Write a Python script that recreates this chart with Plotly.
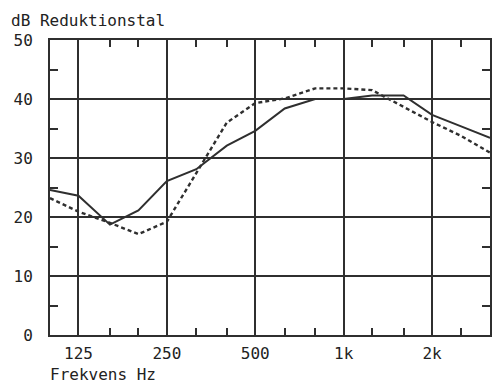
import plotly.graph_objects as go
import math

freqs = [100, 125, 160, 200, 250, 315, 400, 500, 630, 800, 1000, 1250, 1600, 2000, 2500, 3150]
solid = [24.6, 23.6, 18.7, 21.1, 26.1, 28.1, 32.1, 34.6, 38.4, 40.0, 40.0, 40.6, 40.6, 37.3, 35.4, 33.4]
dashed = [23.2, 20.9, 19.0, 17.1, 19.2, 27.4, 36.0, 39.3, 40.1, 41.8, 41.8, 41.5, 38.6, 36.1, 33.8, 30.9]

major_x = [125, 250, 500, 1000, 2000]
major_x_text = ["125", "250", "500", "1k", "2k"]
minor_x = [160, 200, 315, 400, 630, 800, 1250, 1600, 2500]
major_y = [0, 10, 20, 30, 40, 50]
minor_y = [5, 15, 25, 35, 45]

INK = "#2f2f2f"
FONT = "DejaVu Sans Mono"

fig = go.Figure()
fig.add_trace(go.Scatter(x=freqs, y=solid, mode="lines",
                         line=dict(color=INK, width=2)))
fig.add_trace(go.Scatter(x=freqs, y=dashed, mode="lines",
                         line=dict(color=INK, width=2.4, dash="4px,3px")))

axis_common = dict(showline=True, linecolor=INK, linewidth=2, mirror="ticks",
                   showgrid=True, gridcolor=INK, gridwidth=2, zeroline=False)

fig.update_xaxes(type="log", range=[math.log10(100), math.log10(3150)],
                 tickvals=major_x, ticktext=major_x_text, ticks="",
                 ticklabelstandoff=3,
                 tickfont=dict(family=FONT, size=16, color="#222"),
                 minor=dict(tickvals=minor_x, ticks="inside", ticklen=7,
                            tickcolor=INK, tickwidth=2, showgrid=False),
                 **axis_common)
fig.update_yaxes(range=[0, 50], tickvals=major_y, ticks="",
                 ticklabelstandoff=12,
                 tickfont=dict(family=FONT, size=16, color="#222"),
                 minor=dict(tickvals=minor_y, ticks="inside", ticklen=8,
                            tickcolor=INK, tickwidth=2, showgrid=False),
                 **axis_common)

L, R, T, B = 50, 0, 40, 50
W, H = 492, 385
pw, ph = W - L - R, H - T - B

fig.add_annotation(text="dB Reduktionstal", xref="paper", yref="paper",
                   x=(9 - L) / pw, y=1 + 8 / ph,
                   xanchor="left", yanchor="bottom", showarrow=False,
                   font=dict(family=FONT, size=16, color="#222"))
fig.add_annotation(text="Frekvens Hz", xref="paper", yref="paper",
                   x=(48 - L) / pw, y=-(386 - (T + ph)) / ph,
                   xanchor="left", yanchor="bottom", showarrow=False,
                   font=dict(family=FONT, size=16, color="#222"))

fig.update_layout(width=W, height=H, margin=dict(l=L, r=R, t=T, b=B),
                  paper_bgcolor="white", plot_bgcolor="white", showlegend=False)
fig.write_html("out.html")
